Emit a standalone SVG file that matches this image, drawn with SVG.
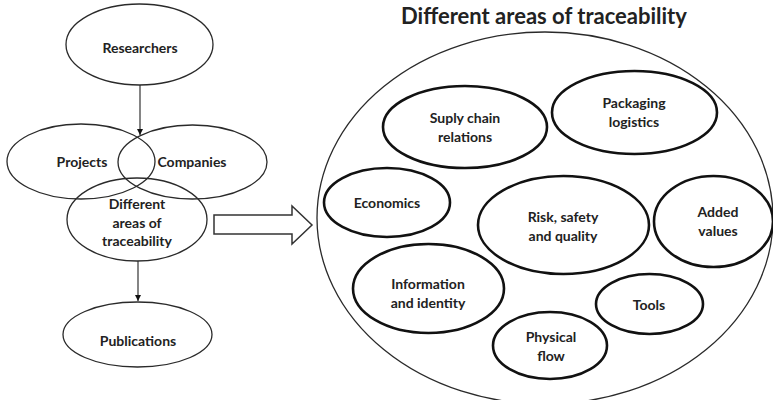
<svg xmlns="http://www.w3.org/2000/svg" width="773" height="400" viewBox="0 0 773 400">
<style>
  .thin { fill: none; stroke: #2a2a2a; stroke-width: 1.3; }
  .thick { fill: none; stroke: #111; stroke-width: 2.6; }
  text { font-family: Lato, "Liberation Sans", sans-serif; font-weight: bold; font-size: 14px; fill: #222; text-anchor: middle; }
  .title { font-size: 22px; }
  .conn { stroke: #333; stroke-width: 1.2; fill: none; }
</style>
<defs>
  <marker id="ah" viewBox="0 0 10 10" refX="10" refY="5" markerWidth="6" markerHeight="7" markerUnits="userSpaceOnUse" orient="auto">
    <path d="M0,0 L10,5 L0,10 Z" fill="#111"/>
  </marker>
</defs>
<rect width="773" height="400" fill="#fff"/>

<g id="connectors">
  <line class="conn" x1="140" y1="85" x2="140" y2="135" marker-end="url(#ah)"/>
  <line class="conn" x1="138" y1="261" x2="138" y2="301" marker-end="url(#ah)"/>
  <path d="M214,215 L292,215 L292,206 L312,225 L292,244 L292,234 L214,234 Z" fill="#fff" stroke="#333" stroke-width="1.5"/>
</g>

<g id="researchers"><ellipse class="thin" cx="139.5" cy="44.5" rx="73.5" ry="40.5"/><text x="140" y="53">Researchers</text></g>
<g id="projects"><ellipse class="thin" cx="81" cy="161.5" rx="74" ry="37.5"/><text x="82" y="167">Projects</text></g>
<g id="companies"><ellipse class="thin" cx="192.5" cy="162" rx="74.5" ry="37"/><text x="192" y="167">Companies</text></g>
<g id="areas"><ellipse class="thin" cx="137" cy="219.5" rx="70" ry="41.5"/>
  <text x="137" y="209">Different</text><text x="137" y="228">areas of</text><text x="137" y="246">traceability</text></g>
<g id="publications"><ellipse class="thin" cx="137.5" cy="334.5" rx="74.5" ry="32.5"/><text x="138" y="346">Publications</text></g>

<g id="title"><text class="title" x="544" y="24">Different areas of traceability</text></g>
<g id="big-circle"><ellipse class="thin" cx="545" cy="218" rx="228" ry="186"/></g>

<g id="supply"><ellipse class="thick" cx="465" cy="127" rx="82" ry="41"/><text x="465" y="123">Suply chain</text><text x="465" y="142">relations</text></g>
<g id="packaging"><ellipse class="thick" cx="634.5" cy="112.5" rx="82.5" ry="41.5"/><text x="634" y="108">Packaging</text><text x="634" y="127">logistics</text></g>
<g id="economics"><ellipse class="thick" cx="387" cy="202.5" rx="63" ry="34.5"/><text x="387" y="208">Economics</text></g>
<g id="risk"><ellipse class="thick" cx="563.5" cy="225" rx="85.5" ry="49"/><text x="563" y="222">Risk, safety</text><text x="563" y="241">and quality</text></g>
<g id="added"><ellipse class="thick" cx="713.5" cy="221.5" rx="59.5" ry="45.5"/><text x="718" y="217">Added</text><text x="718" y="236">values</text></g>
<g id="information"><ellipse class="thick" cx="428.5" cy="288.5" rx="75.5" ry="44.5"/><text x="428" y="289">Information</text><text x="428" y="308">and identity</text></g>
<g id="tools"><ellipse class="thick" cx="649.5" cy="304" rx="53.5" ry="30"/><text x="649" y="310">Tools</text></g>
<g id="physical"><ellipse class="thick" cx="550" cy="345.5" rx="57" ry="33.5"/><text x="551" y="342">Physical</text><text x="551" y="361">flow</text></g>
</svg>
